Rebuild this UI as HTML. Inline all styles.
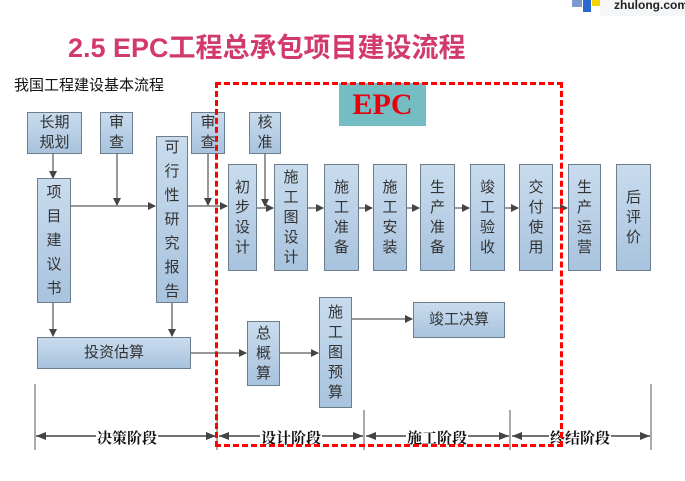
<!DOCTYPE html>
<html><head><meta charset="utf-8"><style>
body{margin:0;width:685px;height:481px;background:#fff;position:relative;overflow:hidden;font-family:"Liberation Sans","Noto Sans CJK SC",sans-serif}
.b{position:absolute;box-sizing:border-box;border:1px solid #6d7d8c;background:linear-gradient(#c9dcee,#a8c3de);color:#333;font-size:15px;display:flex;flex-direction:column;align-items:center;justify-content:center;line-height:20px;text-align:center}
.t{position:absolute;white-space:nowrap}
.lab{position:absolute;font-family:"Liberation Serif","Noto Serif CJK SC",serif;font-weight:bold;font-size:15px;background:#fff;padding:0 1px;top:427px;color:#111}
</style></head><body>
<div class="t" style="left:600px;top:0;width:85px;height:16px;background:#f4f6f8"></div>
<div class="t" style="left:572px;top:0;width:10px;height:7px;background:#7a9ad0"></div>
<div class="t" style="left:583px;top:0;width:8px;height:12px;background:#2a6ad0"></div>
<div class="t" style="left:592px;top:0;width:8px;height:6px;background:#f5d400"></div>
<div class="t" style="left:614px;top:-2px;font-size:12px;font-weight:bold;color:#222">zhulong.com</div>
<div class="t" style="left:68px;top:26px;font-size:27px;font-weight:bold;color:#d23a6c;letter-spacing:0px">2.5 EPC工程总承包项目建设流程</div>
<div class="t" style="left:14px;top:74px;font-size:15px;color:#111">我国工程建设基本流程</div>
<div class="t" style="left:339px;top:83px;width:87px;height:43px;background:#74bec3;color:#e8000f;font-family:'Liberation Serif',serif;font-weight:bold;font-size:30px;text-align:center;line-height:43px">EPC</div>

<svg width="685" height="481" style="position:absolute;left:0;top:0">
<defs><marker id="a" markerWidth="8" markerHeight="8" refX="7" refY="4" orient="auto" markerUnits="userSpaceOnUse"><path d="M0,0L8,4L0,8z" fill="#444"/></marker>
<marker id="s" markerWidth="10" markerHeight="8" refX="0" refY="4" orient="auto" markerUnits="userSpaceOnUse"><path d="M10,0L0,4L10,8z" fill="#444"/></marker>
<marker id="e" markerWidth="10" markerHeight="8" refX="10" refY="4" orient="auto" markerUnits="userSpaceOnUse"><path d="M0,0L10,4L0,8z" fill="#444"/></marker></defs>
<g stroke="#777" stroke-width="1.5" fill="none" marker-end="url(#a)">
<line x1="53" y1="154" x2="53" y2="178"/>
<line x1="117" y1="154" x2="117" y2="205"/>
<line x1="208" y1="154" x2="208" y2="205"/>
<line x1="265" y1="154" x2="265" y2="206"/>
<line x1="71" y1="206" x2="155" y2="206"/>
<line x1="188" y1="206" x2="227" y2="206"/>
<line x1="257" y1="208" x2="273" y2="208"/>
<line x1="308" y1="208" x2="323" y2="208"/>
<line x1="359" y1="208" x2="372" y2="208"/>
<line x1="407" y1="208" x2="419" y2="208"/>
<line x1="455" y1="208" x2="469" y2="208"/>
<line x1="505" y1="208" x2="518" y2="208"/>
<line x1="553" y1="208" x2="567" y2="208"/>
<line x1="53" y1="303" x2="53" y2="336"/>
<line x1="172" y1="303" x2="172" y2="336"/>
<line x1="191" y1="353" x2="246" y2="353"/>
<line x1="280" y1="353" x2="318" y2="353"/>
<line x1="352" y1="319" x2="412" y2="319"/>
</g>
<g stroke="#555" stroke-width="1">
<line x1="35" y1="384" x2="35" y2="450"/>
<line x1="217" y1="410" x2="217" y2="450"/>
<line x1="364" y1="410" x2="364" y2="450"/>
<line x1="510" y1="410" x2="510" y2="450"/>
<line x1="651" y1="384" x2="651" y2="450"/>
</g>
<g stroke="#444" stroke-width="1.5" marker-start="url(#s)" marker-end="url(#e)">
<line x1="36" y1="436" x2="216" y2="436"/>
<line x1="219" y1="436" x2="363" y2="436"/>
<line x1="366" y1="436" x2="509" y2="436"/>
<line x1="512" y1="436" x2="650" y2="436"/>
</g>
</svg>

<div class="b" style="left:27px;top:112px;width:55px;height:42px">长期<br>规划</div>
<div class="b" style="left:100px;top:112px;width:33px;height:42px">审<br>查</div>
<div class="b" style="left:191px;top:112px;width:34px;height:42px">审<br>查</div>
<div class="b" style="left:249px;top:112px;width:32px;height:42px">核<br>准</div>
<div class="b" style="left:37px;top:178px;width:34px;height:125px;line-height:24px">项<br>目<br>建<br>议<br>书</div>
<div class="b" style="left:156px;top:136px;width:32px;height:167px;line-height:24px">可<br>行<br>性<br>研<br>究<br>报<br>告</div>
<div class="b" style="left:228px;top:164px;width:29px;height:107px">初<br>步<br>设<br>计</div>
<div class="b" style="left:274px;top:164px;width:34px;height:107px">施<br>工<br>图<br>设<br>计</div>
<div class="b" style="left:324px;top:164px;width:35px;height:107px">施<br>工<br>准<br>备</div>
<div class="b" style="left:373px;top:164px;width:34px;height:107px">施<br>工<br>安<br>装</div>
<div class="b" style="left:420px;top:164px;width:35px;height:107px">生<br>产<br>准<br>备</div>
<div class="b" style="left:470px;top:164px;width:35px;height:107px">竣<br>工<br>验<br>收</div>
<div class="b" style="left:519px;top:164px;width:34px;height:107px">交<br>付<br>使<br>用</div>
<div class="b" style="left:568px;top:164px;width:33px;height:107px">生<br>产<br>运<br>营</div>
<div class="b" style="left:616px;top:164px;width:35px;height:107px">后<br>评<br>价</div>
<div class="b" style="left:37px;top:337px;width:154px;height:32px">投资估算</div>
<div class="b" style="left:247px;top:321px;width:33px;height:65px">总<br>概<br>算</div>
<div class="b" style="left:319px;top:297px;width:33px;height:111px">施<br>工<br>图<br>预<br>算</div>
<div class="b" style="left:413px;top:302px;width:92px;height:36px">竣工决算</div>

<div class="lab" style="left:96px">决策阶段</div>
<div class="lab" style="left:260px">设计阶段</div>
<div class="lab" style="left:406px">施工阶段</div>
<div class="lab" style="left:549px">终结阶段</div>

<div class="t" style="left:215px;top:82px;width:348px;height:365px;box-sizing:border-box;border:3px dashed #f00"></div>
</body></html>
